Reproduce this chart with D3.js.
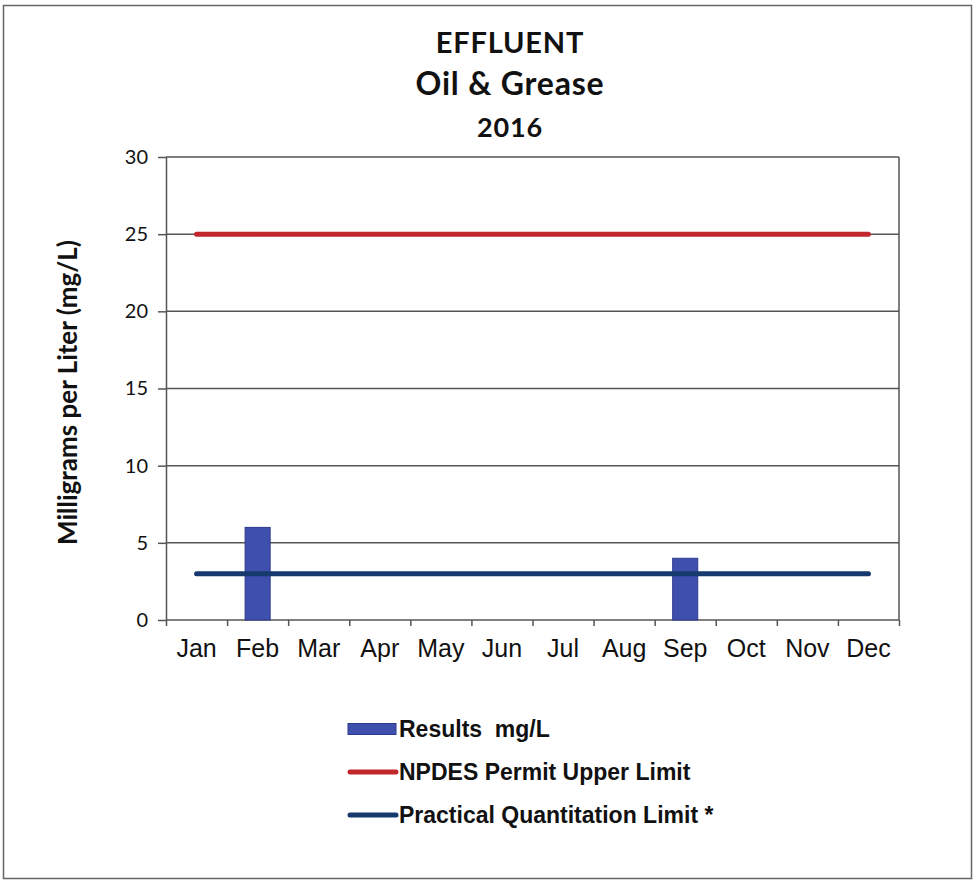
<!DOCTYPE html>
<html>
<head>
<meta charset="utf-8">
<script src="https://cdn.jsdelivr.net/npm/d3@7/dist/d3.min.js"></script>
<style>
  html, body { margin: 0; padding: 0; background: #fff; }
  svg { display: block; }
</style>
</head>
<body>
<svg id="chart" width="976" height="882"></svg>
<script>
// Monthly categories and series values (mg/L)
const months = ["Jan", "Feb", "Mar", "Apr", "May", "Jun", "Jul", "Aug", "Sep", "Oct", "Nov", "Dec"];
const results = [null, 6, null, null, null, null, null, null, 4, null, null, null];
const npdesLimit = [25, 25, 25, 25, 25, 25, 25, 25, 25, 25, 25, 25];
const pqlLimit = [3, 3, 3, 3, 3, 3, 3, 3, 3, 3, 3, 3];
const yTicks = [0, 5, 10, 15, 20, 25, 30];
const titleLines = ["EFFLUENT", "Oil & Grease", "2016"];
const legendLabels = ["Results  mg/L", "NPDES Permit Upper Limit", "Practical Quantitation Limit *"];

const W = 976, H = 882;
const plot = { left: 166, top: 157, right: 899, bottom: 620 };
const colors = { bar: "#3f4fae", barEdge: "#2c3a8c", npdes: "#c1272d", pql: "#173a6e", grid: "#555" };
const titleFont = "Lato, 'Open Sans', sans-serif";
const bodyFont = "'Liberation Sans', Arial, sans-serif";

const svg = d3.select("#chart");

// outer frame
svg.append("rect")
  .attr("x", 3.5).attr("y", 5.5)
  .attr("width", 968).attr("height", 873)
  .attr("fill", "#fff").attr("stroke", "#666").attr("stroke-width", 1.5);

// scales
const x = d3.scaleBand().domain(months).range([plot.left, plot.right]).padding(0);
const xIdx = d3.scaleLinear().domain([0, months.length]).range([plot.left, plot.right]);
const y = d3.scaleLinear().domain([0, 30]).range([plot.bottom, plot.top]);

// title
const titleSizes = [29, 32, 27];
const titleY = [53, 95, 137];
svg.append("g").selectAll("text").data(titleLines).join("text")
  .attr("x", 510).attr("y", (d, i) => titleY[i])
  .attr("text-anchor", "middle")
  .attr("font-family", titleFont).attr("font-weight", 700)
  .attr("font-size", (d, i) => titleSizes[i])
  .attr("letter-spacing", 0.8)
  .attr("fill", "#111")
  .text(d => d);

// horizontal gridlines
svg.append("g").selectAll("line").data(yTicks).join("line")
  .attr("x1", plot.left).attr("x2", plot.right)
  .attr("y1", d => y(d)).attr("y2", d => y(d))
  .attr("stroke", colors.grid).attr("stroke-width", 1.5);

// plot border (right side)
svg.append("line")
  .attr("x1", plot.right).attr("x2", plot.right)
  .attr("y1", plot.top).attr("y2", plot.bottom)
  .attr("stroke", colors.grid).attr("stroke-width", 1.5);

// bars
const barW = x.bandwidth() * 0.41;
svg.append("g").selectAll("rect")
  .data(months.map((m, i) => ({ m, v: results[i] })).filter(d => d.v != null))
  .join("rect")
  .attr("x", d => x(d.m) + (x.bandwidth() - barW) / 2)
  .attr("y", d => y(d.v))
  .attr("width", barW)
  .attr("height", d => y(0) - y(d.v))
  .attr("fill", colors.bar)
  .attr("stroke", colors.barEdge).attr("stroke-width", 1);

// limit lines
const line = d3.line()
  .x((d, i) => x(months[i]) + x.bandwidth() / 2)
  .y(d => y(d));
svg.append("path").datum(npdesLimit).attr("d", line)
  .attr("fill", "none").attr("stroke", colors.npdes)
  .attr("stroke-width", 5).attr("stroke-linecap", "round");
svg.append("path").datum(pqlLimit).attr("d", line)
  .attr("fill", "none").attr("stroke", colors.pql)
  .attr("stroke-width", 5).attr("stroke-linecap", "round");

// y axis
const yAxis = svg.append("g").attr("transform", `translate(${plot.left},0)`)
  .call(d3.axisLeft(y).tickValues(yTicks).tickSize(8).tickPadding(10).tickSizeOuter(0));
yAxis.select(".domain").attr("stroke", colors.grid).attr("stroke-width", 1.5);
yAxis.selectAll(".tick line").attr("stroke", colors.grid).attr("stroke-width", 1.5);
yAxis.selectAll(".tick text")
  .attr("font-family", titleFont).attr("font-size", 20).attr("fill", "#111");

// x axis: tick marks at month boundaries, labels centred in each month
const xTickAxis = svg.append("g").attr("transform", `translate(0,${plot.bottom})`)
  .call(d3.axisBottom(xIdx).tickValues(d3.range(months.length + 1)).tickSize(6).tickFormat(""));
xTickAxis.select(".domain").remove();
xTickAxis.selectAll(".tick line").attr("stroke", colors.grid).attr("stroke-width", 1.5);

const xAxis = svg.append("g").attr("transform", `translate(0,${plot.bottom})`)
  .call(d3.axisBottom(x).tickSize(0).tickPadding(19));
xAxis.select(".domain").remove();
xAxis.selectAll(".tick text")
  .attr("font-family", bodyFont).attr("font-size", 25).attr("fill", "#111");

// y axis title
svg.append("text")
  .attr("transform", `translate(77,${(plot.top + plot.bottom) / 2 + 4}) rotate(-90)`)
  .attr("text-anchor", "middle")
  .attr("font-family", titleFont).attr("font-weight", 700).attr("font-size", 26)
  .attr("fill", "#111")
  .text("Milligrams per Liter (mg/L)");

// legend
const legend = svg.append("g").attr("transform", "translate(348,0)");
const rowY = [729, 772, 815];
legend.append("rect")
  .attr("x", 0).attr("y", rowY[0] - 5.5).attr("width", 48).attr("height", 11)
  .attr("fill", colors.bar).attr("stroke", colors.barEdge).attr("stroke-width", 1);
legend.append("line")
  .attr("x1", 2).attr("x2", 48).attr("y1", rowY[1]).attr("y2", rowY[1])
  .attr("stroke", colors.npdes).attr("stroke-width", 5).attr("stroke-linecap", "round");
legend.append("line")
  .attr("x1", 2).attr("x2", 48).attr("y1", rowY[2]).attr("y2", rowY[2])
  .attr("stroke", colors.pql).attr("stroke-width", 5).attr("stroke-linecap", "round");
legend.selectAll("text.lbl").data(legendLabels).join("text")
  .attr("class", "lbl")
  .attr("x", 51).attr("y", (d, i) => rowY[i] + 8)
  .attr("font-family", bodyFont).attr("font-weight", 700).attr("font-size", 23)
  .attr("fill", "#111")
  .attr("xml:space", "preserve")
  .style("white-space", "pre")
  .text(d => d);
</script>
</body>
</html>
